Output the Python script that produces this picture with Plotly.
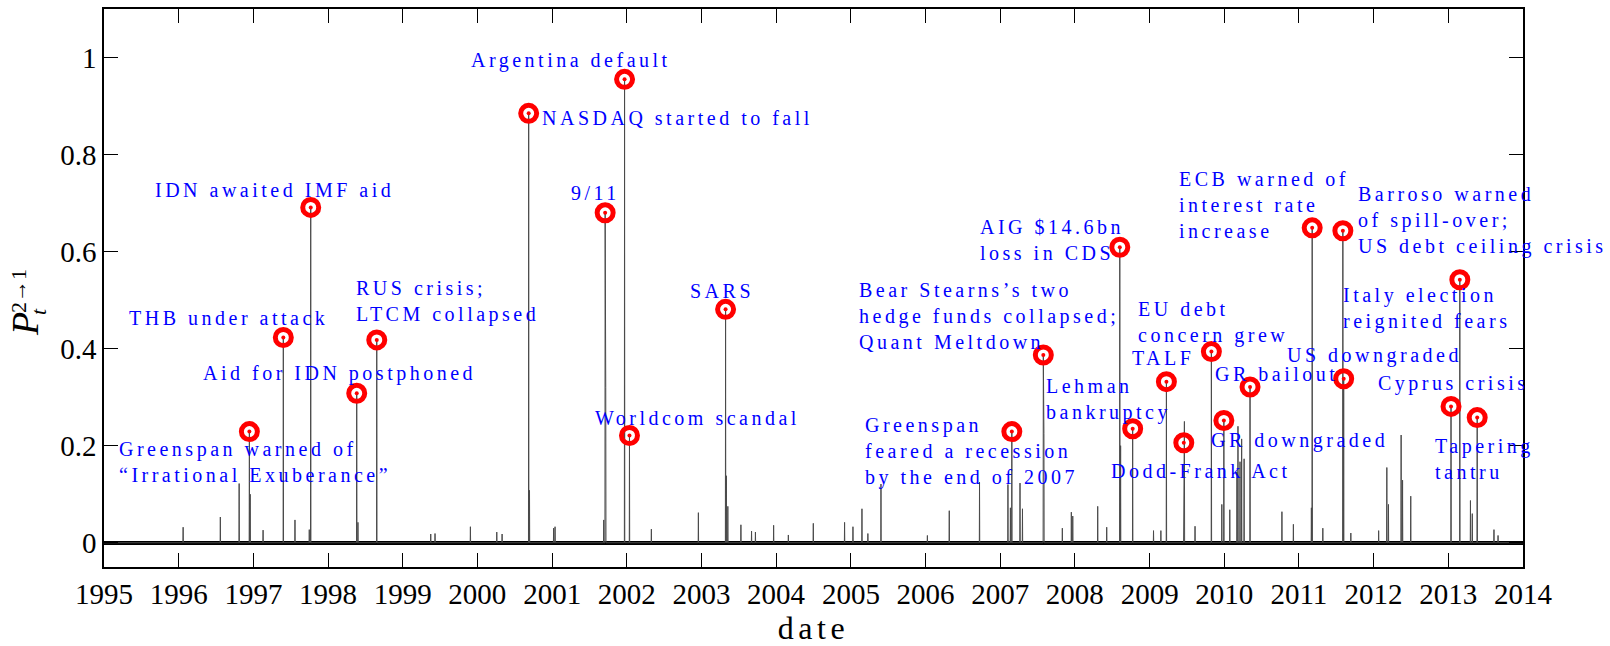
import pandas as pd
import plotly.graph_objects as go

# ---------------- data ----------------
event_dates = ["1996-12-12", "1997-05-27", "1997-10-08", "1998-05-21", "1998-08-27",
               "2000-09-08", "2001-12-21", "2001-09-17", "2002-01-14", "2003-04-29",
               "2007-02-27", "2007-07-31", "2008-08-08", "2008-10-10", "2009-03-24",
               "2009-06-17", "2009-10-30", "2009-12-30", "2010-05-07", "2011-03-07",
               "2011-08-04", "2011-08-08", "2013-02-26", "2013-01-14", "2013-05-22"]
event_values = [0.229, 0.423, 0.691, 0.308, 0.418,
                0.885, 0.955, 0.680, 0.221, 0.481,
                0.229, 0.387, 0.609, 0.235, 0.332,
                0.206, 0.394, 0.252, 0.321, 0.649,
                0.643, 0.338, 0.542, 0.281, 0.258]
event_labels = ["Greenspan warned of<br>“Irrational Exuberance”",
                "THB under attack",
                "IDN awaited IMF aid",
                "Aid for IDN postphoned",
                "RUS crisis;<br>LTCM collapsed",
                "NASDAQ started to fall",
                "Argentina default",
                "9/11",
                "Worldcom scandal",
                "SARS",
                "Greenspan<br>feared a recession<br>by the end of 2007",
                "Bear Stearns’s two<br>hedge funds collapsed;<br>Quant Meltdown",
                "AIG $14.6bn<br>loss in CDS",
                "Lehman<br>bankruptcy",
                "TALF",
                "Dodd-Frank Act",
                "EU debt<br>concern grew",
                "GR downgraded",
                "GR bailout",
                "ECB warned of<br>interest rate<br>increase",
                "Barroso warned<br>of spill-over;<br>US debt ceiling crisis",
                "US downgraded",
                "Italy election<br>reignited fears",
                "Cyprus crisis",
                "Tapering<br>tantru"]

minor_dates = ["1996-01-23", "1996-07-23", "1996-10-23", "1996-12-16", "1997-02-17",
               "1997-07-23", "1997-10-01", "1998-05-27", "1999-05-18", "1999-06-08",
               "1999-11-28", "2000-04-05", "2000-05-01", "2000-09-12", "2001-01-08",
               "2001-01-15", "2001-09-10", "2001-09-20", "2002-05-01", "2002-12-17",
               "2003-05-03", "2003-05-10", "2003-07-13", "2003-09-03", "2003-09-22",
               "2003-12-20", "2004-03-01", "2004-07-01", "2004-12-01", "2005-01-11",
               "2005-02-24", "2005-03-25", "2005-05-28", "2006-01-10", "2006-04-27",
               "2006-09-22", "2007-02-08", "2007-02-20", "2007-04-08", "2007-04-20",
               "2007-08-03", "2007-11-01", "2007-12-15", "2007-12-22", "2008-04-22",
               "2008-06-05", "2008-08-12", "2009-01-20", "2009-02-25", "2009-06-20",
               "2009-08-11", "2009-12-20", "2010-01-28", "2010-03-04", "2010-03-09",
               "2010-03-19", "2010-03-27", "2010-04-08", "2010-10-10", "2010-12-05",
               "2011-03-03", "2011-04-28", "2011-09-12", "2012-01-26", "2012-03-06",
               "2012-03-14", "2012-05-15", "2012-05-22", "2012-07-01", "2013-04-19",
               "2013-04-28", "2013-08-12", "2013-09-01"]
minor_values = [0.032, 0.053, 0.122, 0.100, 0.026,
                0.047, 0.027, 0.042, 0.018, 0.019,
                0.033, 0.022, 0.018, 0.108, 0.030,
                0.033, 0.047, 0.320, 0.028, 0.062,
                0.138, 0.075, 0.037, 0.024, 0.022,
                0.036, 0.016, 0.040, 0.042, 0.033,
                0.070, 0.019, 0.121, 0.015, 0.066,
                0.125, 0.120, 0.072, 0.123, 0.070,
                0.225, 0.030, 0.063, 0.055, 0.075,
                0.032, 0.200, 0.025, 0.025, 0.250,
                0.034, 0.079, 0.068, 0.146, 0.240,
                0.167, 0.214, 0.173, 0.064, 0.038,
                0.072, 0.030, 0.020, 0.025, 0.155,
                0.079, 0.222, 0.129, 0.096, 0.087,
                0.060, 0.027, 0.015]

x_tick_years = list(range(1995, 2015))
y_tick_values = [0, 0.2, 0.4, 0.6, 0.8, 1]

# label placement (left edge date, vertical centre value)
label_x = ["1995-03-05", "1995-04-25", "1995-08-30", "1996-04-17", "1998-05-06",
           "2000-11-02", "1999-11-20", "2001-03-25", "2001-07-19", "2002-10-29",
           "2005-02-27", "2005-02-01", "2006-09-14", "2007-08-01", "2008-09-26",
           "2008-06-17", "2008-10-28", "2009-10-20", "2009-11-06", "2009-05-16",
           "2011-10-08", "2010-10-24", "2011-07-24", "2012-01-13", "2012-10-18"]
label_y = [0.1655, 0.4626, 0.7275, 0.349, 0.498,
           0.8748, 0.993, 0.7214, 0.2567, 0.5187,
           0.189, 0.4679, 0.6248, 0.2948, 0.3803,
           0.1485, 0.4541, 0.2107, 0.3479, 0.696,
           0.6642, 0.3864, 0.4837, 0.3289, 0.1733]

# ---------------- build series ----------------
spikes = sorted(zip(pd.to_datetime(event_dates + minor_dates), event_values + minor_values))
one_day = pd.Timedelta(days=1)
xs = [pd.Timestamp("1995-01-01")]
ys = [0.0]
for d, v in spikes:
    xs += [d - one_day, d, d + one_day]
    ys += [0.0, v, 0.0]
xs.append(pd.Timestamp("2014-01-01"))
ys.append(0.0)

SERIF = "Liberation Serif, Times New Roman, Times, serif"

fig = go.Figure()
fig.add_trace(go.Scatter(x=xs, y=ys, mode="lines",
                         line=dict(color="#4a4a4a", width=1), hoverinfo="skip"))
fig.add_trace(go.Scatter(x=pd.to_datetime(event_dates), y=event_values, mode="markers",
                         marker=dict(symbol="circle-open", size=16, color="#ff0000",
                                     line=dict(width=5, color="#ff0000"))))
fig.add_trace(go.Scatter(x=pd.to_datetime(event_dates), y=event_values, mode="markers",
                         marker=dict(symbol="circle", size=4, color="#ff0000")))

ann = []
for lx, ly, t in zip(label_x, label_y, event_labels):
    ann.append(dict(x=lx, y=ly, xref="x", yref="y", text=t, showarrow=False,
                    xanchor="left", yanchor="middle", align="left",
                    font=dict(family=SERIF, size=20, color="#0000ff")))

# y-axis label  P_t^{2->1}
ann.append(dict(xref="paper", yref="paper", x=0, y=0, xshift=-79, yshift=243,
                text="<i>P</i>", textangle=-90, showarrow=False,
                xanchor="center", yanchor="middle",
                font=dict(family=SERIF, size=38, color="#000000")))
ann.append(dict(xref="paper", yref="paper", x=0, y=0, xshift=-86, yshift=276,
                text="2→1", textangle=-90, showarrow=False,
                xanchor="center", yanchor="middle",
                font=dict(family=SERIF, size=22, color="#000000")))
ann.append(dict(xref="paper", yref="paper", x=0, y=0, xshift=-66, yshift=255,
                text="<i>t</i>", textangle=-90, showarrow=False,
                xanchor="center", yanchor="middle",
                font=dict(family=SERIF, size=22, color="#000000")))

fig.update_layout(
    width=1610, height=646,
    margin=dict(l=104, r=87, t=7, b=71),
    paper_bgcolor="white", plot_bgcolor="white",
    showlegend=False,
    annotations=ann,
    xaxis=dict(type="date", range=["1995-01-01", "2014-01-01"],
               tickvals=[f"{y}-01-01" for y in x_tick_years],
               ticktext=[str(y) for y in x_tick_years],
               ticks="inside", ticklen=14, tickwidth=1, tickcolor="black",
               showline=True, linecolor="black", linewidth=1.5, mirror="ticks",
               showgrid=False, zeroline=False,
               tickfont=dict(family=SERIF, size=29, color="black"),
               title=dict(text="date", standoff=7,
                          font=dict(family=SERIF, size=32, color="black"))),
    yaxis=dict(range=[-0.05, 1.1], tickvals=y_tick_values,
               ticktext=["0", "0.2", "0.4", "0.6", "0.8", "1"],
               ticks="inside", ticklen=14, tickwidth=1, tickcolor="black",
               showline=True, linecolor="black", linewidth=1.5, mirror="ticks",
               showgrid=False, zeroline=True, zerolinecolor="black", zerolinewidth=3.5,
               tickfont=dict(family=SERIF, size=29, color="black")),
)

post = """
document.body.style.margin='0';
document.body.style.padding='0';
var s=document.createElement('style');
s.textContent='body{margin:0;padding:0} .modebar-container{display:none !important} text.annotation-text[style*="0, 0, 255"]{letter-spacing:3.5px} text.xtitle{letter-spacing:4.5px}';
document.head.appendChild(s);
"""
fig.write_html("out.html", post_script=post, config={"displayModeBar": False})
